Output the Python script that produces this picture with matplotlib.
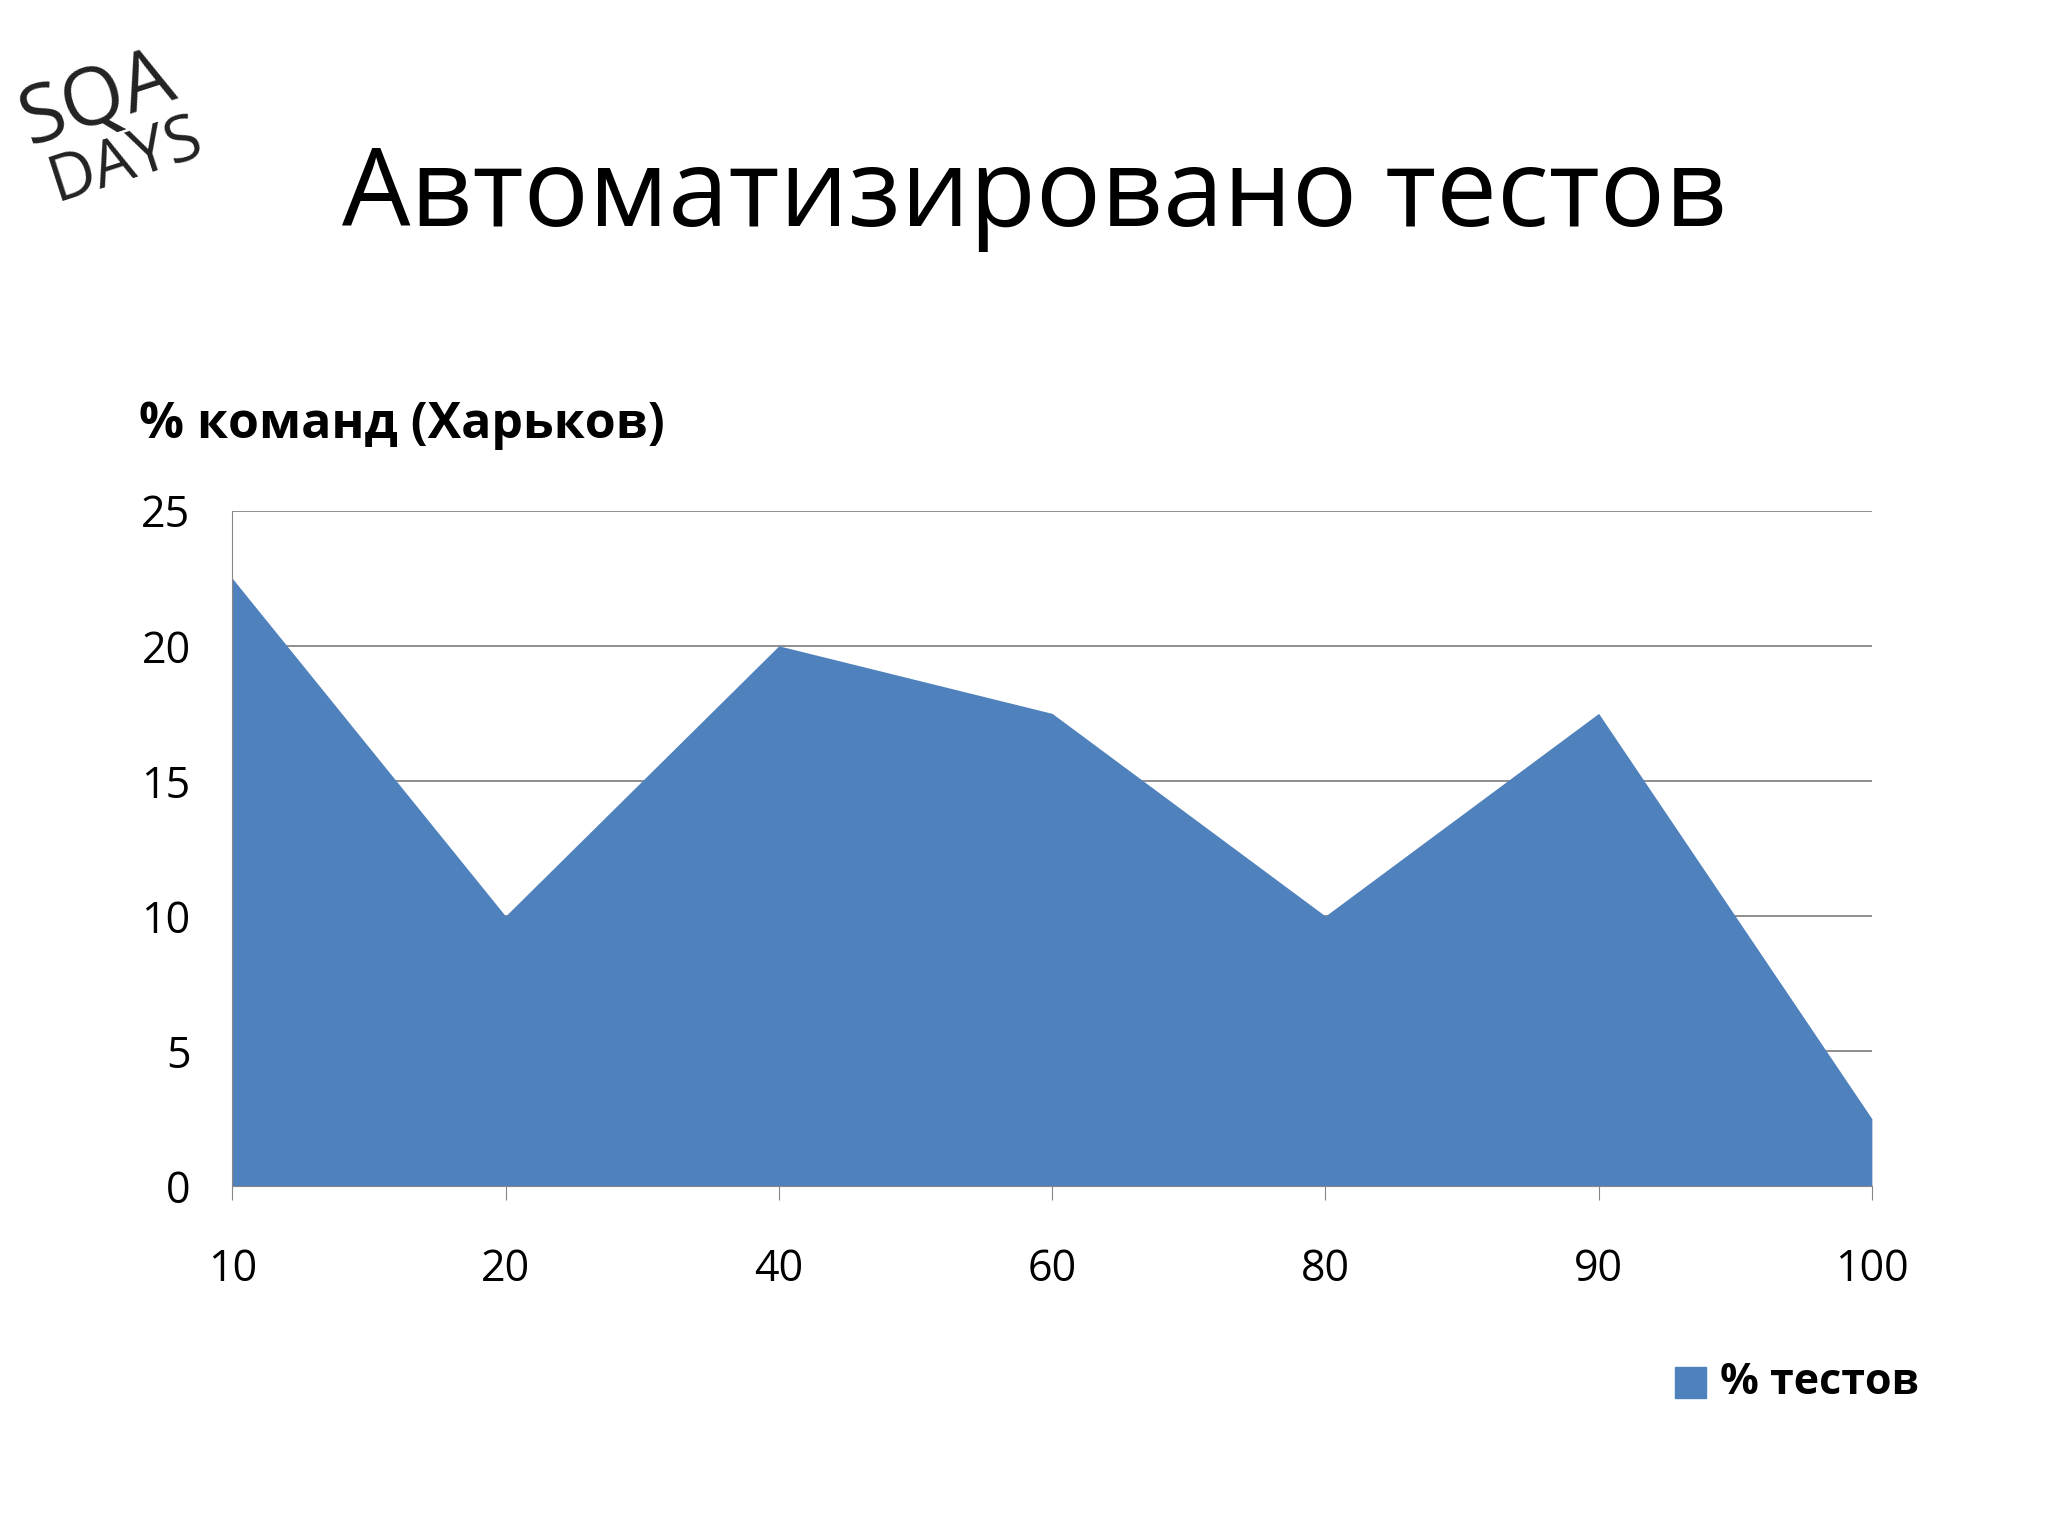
import matplotlib.pyplot as plt
import numpy as np

plt.rcParams['font.family'] = ['Open Sans', 'DejaVu Sans']

categories = ['10', '20', '40', '60', '80', '90', '100']
values = [22.5, 10, 20, 17.5, 10, 17.5, 2.5]
yticks = [0, 5, 10, 15, 20, 25]
color = '#4F81BD'

fig = plt.figure(figsize=(20.48, 15.36), dpi=100)
ax = fig.add_axes([0.1134, 0.2277, 0.8006, 0.4398])
x = np.arange(len(categories))
ax.fill_between(x, values, 0, color=color, lw=0, zorder=2)
ax.set_xlim(0, len(categories) - 1)
ax.set_ylim(0, 25)
ax.set_yticks(yticks)
ax.set_xticks(x)
ax.set_xticklabels(categories)
ax.grid(axis='y', color='#868686', lw=1.3, zorder=1)
for s in ['top', 'right']:
    ax.spines[s].set_visible(False)
ax.spines['left'].set_color('#868686')
ax.spines['bottom'].set_color('#868686')
ax.tick_params(axis='y', length=0, labelsize=31, pad=30)
ax.tick_params(axis='x', length=10, color='#868686', labelsize=31, pad=34)

fig.text(0.505, 0.871, 'Автоматизировано тестов', ha='center', va='center', fontsize=78)
fig.text(0.068, 0.723, '% команд (Харьков)', ha='left', va='center', fontsize=36, fontweight='bold')
fig.patches.append(plt.Rectangle((0.818, 0.090), 0.015, 0.02, color=color, transform=fig.transFigure))
fig.text(0.840, 0.100, '% тестов', ha='left', va='center', fontsize=31, fontweight='bold')

# logo
fig.text(0.005, 0.935, 'SQA', fontsize=58, rotation=18, color='#222222', ha='left', va='center')
fig.text(0.02, 0.895, 'DAYS', fontsize=46, rotation=18, color='#222222', ha='left', va='center')

fig.savefig('out.png', dpi=100)
